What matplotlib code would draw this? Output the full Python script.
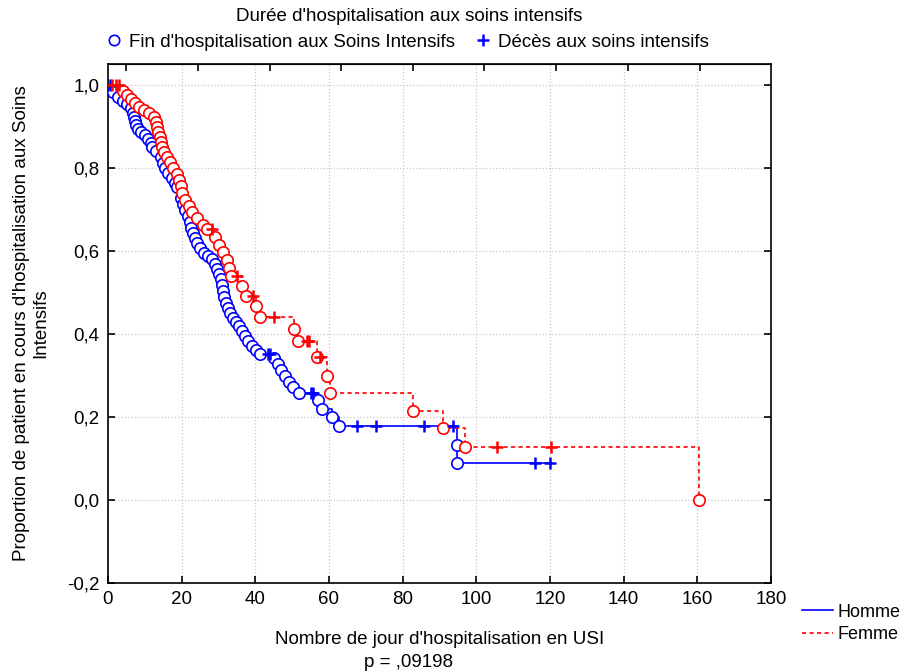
import numpy as np
import matplotlib.pyplot as plt
from matplotlib.lines import Line2D
from matplotlib.ticker import FuncFormatter

plt.rcParams['font.family'] = ['Liberation Sans', 'DejaVu Sans']

# Homme: event times (circles) and survival after each event, censored times (+)
homme_t = [1.4, 2.7, 4.1, 5.2, 6.2, 6.8, 7.1, 7.3, 7.6, 8.1, 9.0, 10.0, 10.9, 11.7,
           11.9, 13.0, 14.4, 14.9, 15.5, 16.3, 17.4, 18.2, 18.7, 19.8, 20.4, 20.9,
           21.7, 22.3, 22.5, 23.1, 23.6, 24.2, 25.0, 26.1, 27.2, 28.2, 29.1, 29.6,
           30.1, 30.7, 31.0, 31.2, 31.5, 32.0, 32.6, 33.1, 33.9, 34.8, 35.6, 36.4,
           37.2, 38.0, 39.1, 40.2, 41.3, 45.1, 46.2, 47.0, 48.1, 49.1, 50.2, 51.9,
           57.0, 58.1, 60.8, 62.7, 94.8, 94.8]
homme_s = [0.983, 0.971, 0.961, 0.954, 0.945, 0.933, 0.923, 0.913, 0.904, 0.894,
           0.887, 0.880, 0.870, 0.860, 0.851, 0.841, 0.827, 0.812, 0.800, 0.788,
           0.776, 0.764, 0.754, 0.728, 0.713, 0.699, 0.684, 0.670, 0.655, 0.643,
           0.631, 0.619, 0.607, 0.595, 0.588, 0.581, 0.569, 0.557, 0.545, 0.533,
           0.518, 0.504, 0.489, 0.475, 0.463, 0.451, 0.439, 0.429, 0.419, 0.407,
           0.395, 0.383, 0.371, 0.361, 0.352, 0.342, 0.328, 0.313, 0.299, 0.284,
           0.272, 0.258, 0.241, 0.219, 0.200, 0.177, 0.133, 0.089]
homme_cens = [0.5, 43.5, 44.0, 55.1, 55.7, 67.6, 72.7, 85.8, 93.7, 116.0, 120.0]

# Femme
femme_t = [4.1, 5.2, 6.2, 7.3, 8.4, 9.8, 11.1, 12.5, 13.0, 13.3, 13.6, 14.1, 14.4,
           14.7, 15.2, 16.0, 16.8, 17.6, 18.7, 19.3, 19.8, 20.1, 20.9, 22.0, 22.8,
           24.2, 25.8, 26.9, 29.1, 30.1, 31.2, 32.3, 32.9, 33.4, 36.4, 37.5, 40.2,
           41.3, 50.5, 51.6, 56.7, 59.5, 60.3, 82.8, 91.0, 96.9, 160.5]
femme_s = [0.985, 0.976, 0.966, 0.957, 0.947, 0.940, 0.933, 0.923, 0.911, 0.899,
           0.887, 0.875, 0.863, 0.851, 0.839, 0.827, 0.814, 0.800, 0.786, 0.771,
           0.757, 0.740, 0.723, 0.708, 0.694, 0.680, 0.663, 0.653, 0.634, 0.614,
           0.598, 0.578, 0.559, 0.540, 0.516, 0.492, 0.467, 0.441, 0.412, 0.383,
           0.345, 0.299, 0.258, 0.214, 0.173, 0.128, 0.0]
femme_cens = [1.1, 2.2, 3.0, 28.2, 35.0, 39.5, 45.0, 54.0, 54.6, 57.5, 105.6, 120.3]

x_ticks = [0, 20, 40, 60, 80, 100, 120, 140, 160, 180]
y_ticks = [-0.2, 0.0, 0.2, 0.4, 0.6, 0.8, 1.0]
top_ticks = [4.9, 24.4, 43.9, 63.3, 82.8, 102.2, 121.7, 141.2, 160.6]

FS = 13.5


def surv_at(times, surv, t):
    idx = np.searchsorted(times, t, side='right')
    return np.concatenate([[1.0], surv])[idx]


fig = plt.figure(figsize=(9.05, 6.72), dpi=100)
ax = fig.add_axes([0.1193, 0.1324, 0.7326, 0.7724])

groups = [
    (homme_t, homme_s, homme_cens, '#0000ff', '-'),
    (femme_t, femme_s, femme_cens, '#ff0000', (0, (2.5, 2))),
]
for t, s, c, col, ls in groups:
    t = np.array(t)
    s = np.array(s)
    end = max(max(c), t.max())
    xs = np.concatenate([[0], t, [end]])
    ys = np.concatenate([[1.0], s, [s[-1]]])
    ax.step(xs, ys, where='post', color=col, lw=1.2, ls=ls, zorder=3)
    ax.plot(t, s, 'o', ms=8.2, mfc='white', mec=col, mew=1.2, ls='none', zorder=4)
    cs = surv_at(t, s, np.array(c))
    ax.plot(c, cs, '+', ms=9, mec=col, mew=1.8, ls='none', zorder=5)

ax.set_xlim(0, 180)
ax.set_ylim(-0.2, 1.05)
ax.set_xticks(x_ticks)
ax.set_yticks(y_ticks)
ax.yaxis.set_major_formatter(FuncFormatter(lambda v, p: ('%.1f' % v).replace('.', ',')))
ax.grid(True, color='#c8c8c8', ls=':', lw=0.9)
ax.set_axisbelow(True)
ax.tick_params(direction='in', length=5, labelsize=FS, top=False, right=True,
               width=1.2, pad=6)
for sp in ax.spines.values():
    sp.set_linewidth(1.2)

top = ax.secondary_xaxis('top')
top.set_xticks(top_ticks)
top.tick_params(direction='in', length=5, width=1.2, labeltop=False)

ax.set_xlabel("Nombre de jour d'hospitalisation en USI", fontsize=FS, labelpad=16)
fig.text(0.4519, 0.008, 'p = ,09198', fontsize=FS, ha='center')
ax.set_ylabel("Proportion de patient en cours d'hospitalisation aux Soins\nIntensifs",
              fontsize=FS, labelpad=13, linespacing=1.15)

# top legend
fig.text(0.452, 0.976, "Durée d'hospitalisation aux soins intensifs", fontsize=FS,
         ha='center', va='center')
h1 = Line2D([], [], marker='o', ls='none', ms=7.5, mfc='white', mec='#0000ff', mew=1.2)
h2 = Line2D([], [], marker='+', ls='none', ms=9, mec='#0000ff', mew=1.8)
fig.legend([h1, h2], ["Fin d'hospitalisation aux Soins Intensifs", "Décès aux soins intensifs"],
           loc='center', bbox_to_anchor=(0.449, 0.937), ncol=2, frameon=False,
           fontsize=FS, handletextpad=0.3, columnspacing=1.0, handlelength=1.0)

# group legend
l1 = Line2D([], [], color='#0000ff', lw=1.2)
l2 = Line2D([], [], color='#ff0000', lw=1.2, ls=(0, (2.5, 2)))
fig.legend([l1, l2], ['Homme', 'Femme'], loc='upper left',
           bbox_to_anchor=(0.876, 0.115), frameon=False, fontsize=13,
           handlelength=1.75, handletextpad=0.25, labelspacing=0.3, borderpad=0)

fig.savefig('out.png', dpi=100)
